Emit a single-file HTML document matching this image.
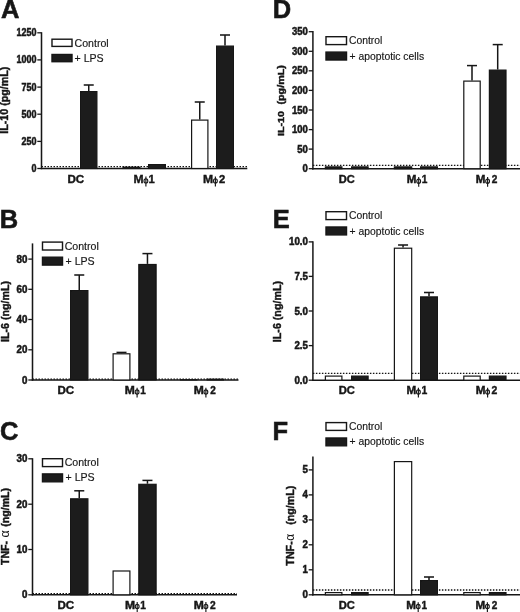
<!DOCTYPE html>
<html><head><meta charset="utf-8"><title>Figure</title>
<style>
html,body{margin:0;padding:0;background:#fff;}
svg{display:block;font-family:"Liberation Sans",sans-serif;fill:#161616;}
</style></head>
<body>
<svg width="520" height="612" viewBox="0 0 520 612">
<defs><filter id="soft" x="0" y="0" width="520" height="612" filterUnits="userSpaceOnUse"><feGaussianBlur stdDeviation="0.38"/></filter></defs>
<rect x="0" y="0" width="520" height="612" fill="#ffffff" stroke="none"/>
<g filter="url(#soft)">
<text transform="translate(1.0,17.6) scale(1.0,1)" font-size="25.5" font-weight="bold" stroke="#161616" stroke-width="0.55">A</text>
<line x1="41.5" y1="32.199999999999996" x2="41.5" y2="169.2" stroke="#161616" stroke-width="1.5" />
<line x1="40.8" y1="168.5" x2="247.3" y2="168.5" stroke="#161616" stroke-width="1.5" />
<line x1="37.3" y1="32.8" x2="41.5" y2="32.8" stroke="#161616" stroke-width="1.3" />
<text transform="translate(36.5,36.3) scale(0.9,1)" font-size="10" font-weight="bold" stroke="#161616" stroke-width="0.5" text-anchor="end">1250</text>
<line x1="37.3" y1="59.9" x2="41.5" y2="59.9" stroke="#161616" stroke-width="1.3" />
<text transform="translate(36.5,63.4) scale(0.9,1)" font-size="10" font-weight="bold" stroke="#161616" stroke-width="0.5" text-anchor="end">1000</text>
<line x1="37.3" y1="87.1" x2="41.5" y2="87.1" stroke="#161616" stroke-width="1.3" />
<text transform="translate(36.5,90.6) scale(0.9,1)" font-size="10" font-weight="bold" stroke="#161616" stroke-width="0.5" text-anchor="end">750</text>
<line x1="37.3" y1="114.2" x2="41.5" y2="114.2" stroke="#161616" stroke-width="1.3" />
<text transform="translate(36.5,117.7) scale(0.9,1)" font-size="10" font-weight="bold" stroke="#161616" stroke-width="0.5" text-anchor="end">500</text>
<line x1="37.3" y1="141.4" x2="41.5" y2="141.4" stroke="#161616" stroke-width="1.3" />
<text transform="translate(36.5,144.9) scale(0.9,1)" font-size="10" font-weight="bold" stroke="#161616" stroke-width="0.5" text-anchor="end">250</text>
<line x1="37.3" y1="168.5" x2="41.5" y2="168.5" stroke="#161616" stroke-width="1.3" />
<text transform="translate(36.5,172.0) scale(0.9,1)" font-size="10" font-weight="bold" stroke="#161616" stroke-width="0.5" text-anchor="end">0</text>
<line x1="41.5" y1="166.6" x2="247.3" y2="166.6" stroke="#161616" stroke-width="1.3" stroke-dasharray="1.5 1.5"/>
<line x1="88.75" y1="85" x2="88.75" y2="91" stroke="#161616" stroke-width="1.5" />
<line x1="83.75" y1="85" x2="93.75" y2="85" stroke="#161616" stroke-width="1.5" />
<rect x="80.6" y="91.6" width="16.3" height="76.9" fill="#1c1c1c" stroke="#161616" stroke-width="1.2"/>
<rect x="123.1" y="167.2" width="16.8" height="1.3000000000000056" fill="#1c1c1c" stroke="#161616" stroke-width="1.2"/>
<rect x="148.6" y="164.6" width="16.8" height="3.9" fill="#1c1c1c" stroke="#161616" stroke-width="1.2"/>
<line x1="199.75" y1="102" x2="199.75" y2="119.5" stroke="#161616" stroke-width="1.5" />
<line x1="194.75" y1="102" x2="204.75" y2="102" stroke="#161616" stroke-width="1.5" />
<rect x="191.6" y="120.1" width="16.3" height="48.4" fill="#ffffff" stroke="#161616" stroke-width="1.2"/>
<line x1="225.0" y1="35" x2="225.0" y2="45.5" stroke="#161616" stroke-width="1.5" />
<line x1="220.0" y1="35" x2="230.0" y2="35" stroke="#161616" stroke-width="1.5" />
<rect x="216.6" y="46.1" width="16.8" height="122.4" fill="#1c1c1c" stroke="#161616" stroke-width="1.2"/>
<text transform="translate(75.8,183.1) scale(1.04,1)" font-size="11.2" font-weight="bold" stroke="#161616" stroke-width="0.4" text-anchor="middle">DC</text>
<g transform="translate(144.6,183.1)"><text transform="translate(-0.9,0) scale(1.082,1)" text-anchor="end" font-size="11.2" font-weight="bold" stroke="#161616" stroke-width="0.4">M</text><line x1="1.3" y1="-6.5" x2="1.3" y2="3.3" stroke="#161616" stroke-width="1.15"/><ellipse cx="1.3" cy="-2.2" rx="1.9" ry="2.15" fill="none" stroke="#161616" stroke-width="1.1"/><text x="10.1" y="0" text-anchor="end" font-size="11.2" font-weight="bold" stroke="#161616" stroke-width="0.4">1</text></g>
<g transform="translate(214.1,183.1)"><text transform="translate(-0.9,0) scale(1.082,1)" text-anchor="end" font-size="11.2" font-weight="bold" stroke="#161616" stroke-width="0.4">M</text><line x1="1.3" y1="-6.5" x2="1.3" y2="3.3" stroke="#161616" stroke-width="1.15"/><ellipse cx="1.3" cy="-2.2" rx="1.9" ry="2.15" fill="none" stroke="#161616" stroke-width="1.1"/><text x="11.1" y="0" text-anchor="end" font-size="11.2" font-weight="bold" stroke="#161616" stroke-width="0.4">2</text></g>
<rect x="52" y="39.2" width="20" height="7.2" fill="#ffffff" stroke="#161616" stroke-width="1.4"/>
<text x="74.5" y="46.60000000000001" font-size="10.6" font-weight="normal" text-anchor="start" stroke="#161616" stroke-width="0.15">Control</text>
<rect x="52" y="54.5" width="20" height="7.2" fill="#1c1c1c" stroke="#161616" stroke-width="1.4"/>
<text x="74.5" y="61.900000000000006" font-size="10.6" font-weight="normal" text-anchor="start" stroke="#161616" stroke-width="0.15">+ LPS</text>
<text transform="translate(8.4,100.2) rotate(-90) scale(1,1)" font-size="10.7" font-weight="bold" stroke="#161616" stroke-width="0.42" text-anchor="middle">IL-10 (pg/mL)</text>
<text transform="translate(-0.3,227.6) scale(1.0,1)" font-size="25.5" font-weight="bold" stroke="#161616" stroke-width="0.55">B</text>
<line x1="32.5" y1="243.4" x2="32.5" y2="380.7" stroke="#161616" stroke-width="1.5" />
<line x1="31.8" y1="380" x2="238.5" y2="380" stroke="#161616" stroke-width="1.5" />
<line x1="28.3" y1="259.1" x2="32.5" y2="259.1" stroke="#161616" stroke-width="1.3" />
<text transform="translate(27.5,262.6) scale(0.98,1)" font-size="10" font-weight="bold" stroke="#161616" stroke-width="0.5" text-anchor="end">80</text>
<line x1="28.3" y1="289.3" x2="32.5" y2="289.3" stroke="#161616" stroke-width="1.3" />
<text transform="translate(27.5,292.8) scale(0.98,1)" font-size="10" font-weight="bold" stroke="#161616" stroke-width="0.5" text-anchor="end">60</text>
<line x1="28.3" y1="319.5" x2="32.5" y2="319.5" stroke="#161616" stroke-width="1.3" />
<text transform="translate(27.5,323.0) scale(0.98,1)" font-size="10" font-weight="bold" stroke="#161616" stroke-width="0.5" text-anchor="end">40</text>
<line x1="28.3" y1="349.8" x2="32.5" y2="349.8" stroke="#161616" stroke-width="1.3" />
<text transform="translate(27.5,353.3) scale(0.98,1)" font-size="10" font-weight="bold" stroke="#161616" stroke-width="0.5" text-anchor="end">20</text>
<line x1="28.3" y1="380" x2="32.5" y2="380" stroke="#161616" stroke-width="1.3" />
<text transform="translate(27.5,383.5) scale(0.98,1)" font-size="10" font-weight="bold" stroke="#161616" stroke-width="0.5" text-anchor="end">0</text>
<line x1="32.5" y1="379.1" x2="238.5" y2="379.1" stroke="#161616" stroke-width="1.3" stroke-dasharray="1.5 1.5"/>
<line x1="79.25" y1="275" x2="79.25" y2="290" stroke="#161616" stroke-width="1.5" />
<line x1="74.25" y1="275" x2="84.25" y2="275" stroke="#161616" stroke-width="1.5" />
<rect x="70.6" y="290.6" width="17.3" height="89.4" fill="#1c1c1c" stroke="#161616" stroke-width="1.2"/>
<line x1="121.5" y1="352.4" x2="121.5" y2="353.2" stroke="#161616" stroke-width="1.5" />
<line x1="116.5" y1="352.4" x2="126.5" y2="352.4" stroke="#161616" stroke-width="1.5" />
<rect x="113.1" y="353.8" width="16.8" height="26.20000000000001" fill="#ffffff" stroke="#161616" stroke-width="1.2"/>
<line x1="147.45" y1="253.6" x2="147.45" y2="263.9" stroke="#161616" stroke-width="1.5" />
<line x1="142.45" y1="253.6" x2="152.45" y2="253.6" stroke="#161616" stroke-width="1.5" />
<rect x="138.79999999999998" y="264.5" width="17.3" height="115.50000000000003" fill="#1c1c1c" stroke="#161616" stroke-width="1.2"/>
<rect x="180.6" y="379.8" width="16.3" height="0.2000000000000114" fill="#1c1c1c" stroke="#161616" stroke-width="1.2"/>
<rect x="207.1" y="379.20000000000005" width="16.3" height="0.7999999999999773" fill="#1c1c1c" stroke="#161616" stroke-width="1.2"/>
<text transform="translate(65.8,394.2) scale(1.16,1)" font-size="10" font-weight="bold" stroke="#161616" stroke-width="0.4" text-anchor="middle">DC</text>
<g transform="translate(135.8,394.2)"><text transform="translate(-0.9,0) scale(1.206,1)" text-anchor="end" font-size="10" font-weight="bold" stroke="#161616" stroke-width="0.4">M</text><line x1="1.3" y1="-6.5" x2="1.3" y2="3.3" stroke="#161616" stroke-width="1.15"/><ellipse cx="1.3" cy="-2.2" rx="1.9" ry="2.15" fill="none" stroke="#161616" stroke-width="1.1"/><text x="10.1" y="0" text-anchor="end" font-size="10" font-weight="bold" stroke="#161616" stroke-width="0.4">1</text></g>
<g transform="translate(204.6,394.2)"><text transform="translate(-0.9,0) scale(1.206,1)" text-anchor="end" font-size="10" font-weight="bold" stroke="#161616" stroke-width="0.4">M</text><line x1="1.3" y1="-6.5" x2="1.3" y2="3.3" stroke="#161616" stroke-width="1.15"/><ellipse cx="1.3" cy="-2.2" rx="1.9" ry="2.15" fill="none" stroke="#161616" stroke-width="1.1"/><text x="11.1" y="0" text-anchor="end" font-size="10" font-weight="bold" stroke="#161616" stroke-width="0.4">2</text></g>
<rect x="42.5" y="242.1" width="20" height="7.9" fill="#ffffff" stroke="#161616" stroke-width="1.4"/>
<text x="64.7" y="249.8" font-size="10.6" font-weight="normal" text-anchor="start" stroke="#161616" stroke-width="0.15">Control</text>
<rect x="42.5" y="257.2" width="20" height="7.9" fill="#1c1c1c" stroke="#161616" stroke-width="1.4"/>
<text x="65.5" y="264.9" font-size="10.6" font-weight="normal" text-anchor="start" stroke="#161616" stroke-width="0.15">+ LPS</text>
<text transform="translate(9,311.5) rotate(-90) scale(1,1)" font-size="10.7" font-weight="bold" stroke="#161616" stroke-width="0.42" text-anchor="middle">IL-6 (ng/mL)</text>
<text transform="translate(0,440.3) scale(1.0,1)" font-size="25.5" font-weight="bold" stroke="#161616" stroke-width="0.55">C</text>
<line x1="32.5" y1="458.2" x2="32.5" y2="595.5" stroke="#161616" stroke-width="1.5" />
<line x1="31.8" y1="594.8" x2="237" y2="594.8" stroke="#161616" stroke-width="1.5" />
<line x1="28.3" y1="458.8" x2="32.5" y2="458.8" stroke="#161616" stroke-width="1.3" />
<text transform="translate(27.5,462.3) scale(0.98,1)" font-size="10" font-weight="bold" stroke="#161616" stroke-width="0.5" text-anchor="end">30</text>
<line x1="28.3" y1="504.2" x2="32.5" y2="504.2" stroke="#161616" stroke-width="1.3" />
<text transform="translate(27.5,507.7) scale(0.98,1)" font-size="10" font-weight="bold" stroke="#161616" stroke-width="0.5" text-anchor="end">20</text>
<line x1="28.3" y1="549.5" x2="32.5" y2="549.5" stroke="#161616" stroke-width="1.3" />
<text transform="translate(27.5,553.0) scale(0.98,1)" font-size="10" font-weight="bold" stroke="#161616" stroke-width="0.5" text-anchor="end">10</text>
<line x1="28.3" y1="594.8" x2="32.5" y2="594.8" stroke="#161616" stroke-width="1.3" />
<text transform="translate(27.5,598.3) scale(0.98,1)" font-size="10" font-weight="bold" stroke="#161616" stroke-width="0.5" text-anchor="end">0</text>
<line x1="32.5" y1="593.6" x2="237" y2="593.6" stroke="#161616" stroke-width="1.4" stroke-dasharray="1.5 1.5"/>
<line x1="79.25" y1="490.8" x2="79.25" y2="498.2" stroke="#161616" stroke-width="1.5" />
<line x1="74.25" y1="490.8" x2="84.25" y2="490.8" stroke="#161616" stroke-width="1.5" />
<rect x="70.6" y="498.8" width="17.3" height="95.99999999999997" fill="#1c1c1c" stroke="#161616" stroke-width="1.2"/>
<rect x="113.1" y="571.0" width="16.8" height="23.799999999999976" fill="#ffffff" stroke="#161616" stroke-width="1.2"/>
<line x1="147.45" y1="480.4" x2="147.45" y2="483.7" stroke="#161616" stroke-width="1.5" />
<line x1="142.45" y1="480.4" x2="152.45" y2="480.4" stroke="#161616" stroke-width="1.5" />
<rect x="138.79999999999998" y="484.3" width="17.3" height="110.49999999999997" fill="#1c1c1c" stroke="#161616" stroke-width="1.2"/>
<text transform="translate(65.8,608.6) scale(1.14,1)" font-size="10.2" font-weight="bold" stroke="#161616" stroke-width="0.4" text-anchor="middle">DC</text>
<g transform="translate(135.9,608.6)"><text transform="translate(-0.9,0) scale(1.186,1)" text-anchor="end" font-size="10.2" font-weight="bold" stroke="#161616" stroke-width="0.4">M</text><line x1="1.3" y1="-6.5" x2="1.3" y2="3.3" stroke="#161616" stroke-width="1.15"/><ellipse cx="1.3" cy="-2.2" rx="1.9" ry="2.15" fill="none" stroke="#161616" stroke-width="1.1"/><text x="10.1" y="0" text-anchor="end" font-size="10.2" font-weight="bold" stroke="#161616" stroke-width="0.4">1</text></g>
<g transform="translate(204.6,608.6)"><text transform="translate(-0.9,0) scale(1.186,1)" text-anchor="end" font-size="10.2" font-weight="bold" stroke="#161616" stroke-width="0.4">M</text><line x1="1.3" y1="-6.5" x2="1.3" y2="3.3" stroke="#161616" stroke-width="1.15"/><ellipse cx="1.3" cy="-2.2" rx="1.9" ry="2.15" fill="none" stroke="#161616" stroke-width="1.1"/><text x="11.1" y="0" text-anchor="end" font-size="10.2" font-weight="bold" stroke="#161616" stroke-width="0.4">2</text></g>
<rect x="42.5" y="458.7" width="20" height="7.9" fill="#ffffff" stroke="#161616" stroke-width="1.4"/>
<text x="64.7" y="465.99999999999994" font-size="10.6" font-weight="normal" text-anchor="start" stroke="#161616" stroke-width="0.15">Control</text>
<rect x="42.5" y="473.9" width="20" height="7.9" fill="#1c1c1c" stroke="#161616" stroke-width="1.4"/>
<text x="65.5" y="481.19999999999993" font-size="10.6" font-weight="normal" text-anchor="start" stroke="#161616" stroke-width="0.15">+ LPS</text>
<text transform="translate(9.3,526.5) rotate(-90) scale(1.05,1)" font-size="10.1" font-weight="bold" stroke="#161616" stroke-width="0.42" text-anchor="middle">TNF-<tspan dx="3.2" font-weight="normal" stroke="none" font-size="12">α</tspan><tspan dx="3.4">(ng/mL)</tspan></text>
<text transform="translate(272.7,17.6) scale(1.0,1)" font-size="25.5" font-weight="bold" stroke="#161616" stroke-width="0.55">D</text>
<line x1="312.9" y1="31.099999999999998" x2="312.9" y2="169.39999999999998" stroke="#161616" stroke-width="1.5" />
<line x1="312.2" y1="168.7" x2="520" y2="168.7" stroke="#161616" stroke-width="1.5" />
<line x1="308.7" y1="31.7" x2="312.9" y2="31.7" stroke="#161616" stroke-width="1.3" />
<text transform="translate(307.9,35.2) scale(0.95,1)" font-size="10" font-weight="bold" stroke="#161616" stroke-width="0.5" text-anchor="end">350</text>
<line x1="308.7" y1="51.3" x2="312.9" y2="51.3" stroke="#161616" stroke-width="1.3" />
<text transform="translate(307.9,54.8) scale(0.95,1)" font-size="10" font-weight="bold" stroke="#161616" stroke-width="0.5" text-anchor="end">300</text>
<line x1="308.7" y1="70.8" x2="312.9" y2="70.8" stroke="#161616" stroke-width="1.3" />
<text transform="translate(307.9,74.3) scale(0.95,1)" font-size="10" font-weight="bold" stroke="#161616" stroke-width="0.5" text-anchor="end">250</text>
<line x1="308.7" y1="90.4" x2="312.9" y2="90.4" stroke="#161616" stroke-width="1.3" />
<text transform="translate(307.9,93.9) scale(0.95,1)" font-size="10" font-weight="bold" stroke="#161616" stroke-width="0.5" text-anchor="end">200</text>
<line x1="308.7" y1="110" x2="312.9" y2="110" stroke="#161616" stroke-width="1.3" />
<text transform="translate(307.9,113.5) scale(0.95,1)" font-size="10" font-weight="bold" stroke="#161616" stroke-width="0.5" text-anchor="end">150</text>
<line x1="308.7" y1="129.6" x2="312.9" y2="129.6" stroke="#161616" stroke-width="1.3" />
<text transform="translate(307.9,133.1) scale(0.95,1)" font-size="10" font-weight="bold" stroke="#161616" stroke-width="0.5" text-anchor="end">100</text>
<line x1="308.7" y1="149.1" x2="312.9" y2="149.1" stroke="#161616" stroke-width="1.3" />
<text transform="translate(307.9,152.6) scale(0.95,1)" font-size="10" font-weight="bold" stroke="#161616" stroke-width="0.5" text-anchor="end">50</text>
<line x1="308.7" y1="168.7" x2="312.9" y2="168.7" stroke="#161616" stroke-width="1.3" />
<text transform="translate(307.9,172.2) scale(0.95,1)" font-size="10" font-weight="bold" stroke="#161616" stroke-width="0.5" text-anchor="end">0</text>
<line x1="312.9" y1="165.4" x2="520" y2="165.4" stroke="#161616" stroke-width="1.3" stroke-dasharray="1.5 1.5"/>
<rect x="325.40000000000003" y="166.9" width="16.5" height="1.7999999999999772" fill="#1c1c1c" stroke="#161616" stroke-width="1.2"/>
<rect x="351.6" y="166.9" width="16.5" height="1.7999999999999772" fill="#1c1c1c" stroke="#161616" stroke-width="1.2"/>
<rect x="394.40000000000003" y="166.9" width="17.3" height="1.7999999999999772" fill="#1c1c1c" stroke="#161616" stroke-width="1.2"/>
<rect x="420.6" y="166.9" width="16.8" height="1.7999999999999772" fill="#1c1c1c" stroke="#161616" stroke-width="1.2"/>
<line x1="472.0" y1="65.6" x2="472.0" y2="80.5" stroke="#161616" stroke-width="1.5" />
<line x1="467.0" y1="65.6" x2="477.0" y2="65.6" stroke="#161616" stroke-width="1.5" />
<rect x="463.8" y="81.1" width="16.400000000000002" height="87.6" fill="#ffffff" stroke="#161616" stroke-width="1.2"/>
<line x1="497.7" y1="44.6" x2="497.7" y2="69.5" stroke="#161616" stroke-width="1.5" />
<line x1="492.7" y1="44.6" x2="502.7" y2="44.6" stroke="#161616" stroke-width="1.5" />
<rect x="489.40000000000003" y="70.1" width="16.6" height="98.6" fill="#1c1c1c" stroke="#161616" stroke-width="1.2"/>
<text transform="translate(346.8,183.4) scale(1.1,1)" font-size="10.1" font-weight="bold" stroke="#161616" stroke-width="0.4" text-anchor="middle">DC</text>
<g transform="translate(417.4,183.4)"><text transform="translate(-0.9,0) scale(1.144,1)" text-anchor="end" font-size="10.1" font-weight="bold" stroke="#161616" stroke-width="0.4">M</text><line x1="1.3" y1="-6.5" x2="1.3" y2="3.3" stroke="#161616" stroke-width="1.15"/><ellipse cx="1.3" cy="-2.2" rx="1.9" ry="2.15" fill="none" stroke="#161616" stroke-width="1.1"/><text x="10.1" y="0" text-anchor="end" font-size="10.1" font-weight="bold" stroke="#161616" stroke-width="0.4">1</text></g>
<g transform="translate(486.3,183.4)"><text transform="translate(-0.9,0) scale(1.144,1)" text-anchor="end" font-size="10.1" font-weight="bold" stroke="#161616" stroke-width="0.4">M</text><line x1="1.3" y1="-6.5" x2="1.3" y2="3.3" stroke="#161616" stroke-width="1.15"/><ellipse cx="1.3" cy="-2.2" rx="1.9" ry="2.15" fill="none" stroke="#161616" stroke-width="1.1"/><text x="11.1" y="0" text-anchor="end" font-size="10.1" font-weight="bold" stroke="#161616" stroke-width="0.4">2</text></g>
<rect x="326" y="36.7" width="20.5" height="7.9" fill="#ffffff" stroke="#161616" stroke-width="1.4"/>
<text x="349" y="44.2" font-size="10.35" font-weight="normal" text-anchor="start" stroke="#161616" stroke-width="0.15">Control</text>
<rect x="326" y="52.1" width="20.5" height="7.9" fill="#1c1c1c" stroke="#161616" stroke-width="1.4"/>
<text x="349.6" y="59.6" font-size="10.35" font-weight="normal" text-anchor="start" stroke="#161616" stroke-width="0.15">+ apoptotic cells</text>
<text transform="translate(284.2,100.6) rotate(-90) scale(1.17,1)" font-size="9.2" font-weight="bold" stroke="#161616" stroke-width="0.42" text-anchor="middle">IL-10<tspan dx="5.5">(pg/mL)</tspan></text>
<text transform="translate(272.8,227.8) scale(1.0,1)" font-size="25.5" font-weight="bold" stroke="#161616" stroke-width="0.55">E</text>
<line x1="312.9" y1="241.3" x2="312.9" y2="380.9" stroke="#161616" stroke-width="1.5" />
<line x1="312.2" y1="380.2" x2="520" y2="380.2" stroke="#161616" stroke-width="1.5" />
<line x1="308.7" y1="241.9" x2="312.9" y2="241.9" stroke="#161616" stroke-width="1.3" />
<text transform="translate(307.9,245.4) scale(0.97,1)" font-size="10" font-weight="bold" stroke="#161616" stroke-width="0.5" text-anchor="end">10.0</text>
<line x1="308.7" y1="276.4" x2="312.9" y2="276.4" stroke="#161616" stroke-width="1.3" />
<text transform="translate(307.9,279.9) scale(0.97,1)" font-size="10" font-weight="bold" stroke="#161616" stroke-width="0.5" text-anchor="end">7.5</text>
<line x1="308.7" y1="311" x2="312.9" y2="311" stroke="#161616" stroke-width="1.3" />
<text transform="translate(307.9,314.5) scale(0.97,1)" font-size="10" font-weight="bold" stroke="#161616" stroke-width="0.5" text-anchor="end">5.0</text>
<line x1="308.7" y1="345.6" x2="312.9" y2="345.6" stroke="#161616" stroke-width="1.3" />
<text transform="translate(307.9,349.1) scale(0.97,1)" font-size="10" font-weight="bold" stroke="#161616" stroke-width="0.5" text-anchor="end">2.5</text>
<line x1="308.7" y1="380.2" x2="312.9" y2="380.2" stroke="#161616" stroke-width="1.3" />
<text transform="translate(307.9,383.7) scale(0.97,1)" font-size="10" font-weight="bold" stroke="#161616" stroke-width="0.5" text-anchor="end">0.0</text>
<line x1="312.9" y1="373.4" x2="520" y2="373.4" stroke="#161616" stroke-width="1.3" stroke-dasharray="1.5 1.5"/>
<rect x="325.40000000000003" y="376.1" width="16.5" height="4.099999999999989" fill="#ffffff" stroke="#161616" stroke-width="1.2"/>
<rect x="351.6" y="376.1" width="16.5" height="4.099999999999989" fill="#1c1c1c" stroke="#161616" stroke-width="1.2"/>
<line x1="403.05" y1="245" x2="403.05" y2="247.6" stroke="#161616" stroke-width="1.5" />
<line x1="398.05" y1="245" x2="408.05" y2="245" stroke="#161616" stroke-width="1.5" />
<rect x="394.40000000000003" y="248.2" width="17.3" height="132.0" fill="#ffffff" stroke="#161616" stroke-width="1.2"/>
<line x1="429.0" y1="292.5" x2="429.0" y2="296.3" stroke="#161616" stroke-width="1.5" />
<line x1="424.0" y1="292.5" x2="434.0" y2="292.5" stroke="#161616" stroke-width="1.5" />
<rect x="420.6" y="296.90000000000003" width="16.8" height="83.29999999999998" fill="#1c1c1c" stroke="#161616" stroke-width="1.2"/>
<rect x="463.8" y="376.1" width="16.400000000000002" height="4.099999999999989" fill="#ffffff" stroke="#161616" stroke-width="1.2"/>
<rect x="489.40000000000003" y="376.1" width="16.6" height="4.099999999999989" fill="#1c1c1c" stroke="#161616" stroke-width="1.2"/>
<text transform="translate(346.8,394.2) scale(1.08,1)" font-size="10.4" font-weight="bold" stroke="#161616" stroke-width="0.4" text-anchor="middle">DC</text>
<g transform="translate(417.1,394.2)"><text transform="translate(-0.9,0) scale(1.123,1)" text-anchor="end" font-size="10.4" font-weight="bold" stroke="#161616" stroke-width="0.4">M</text><line x1="1.3" y1="-6.5" x2="1.3" y2="3.3" stroke="#161616" stroke-width="1.15"/><ellipse cx="1.3" cy="-2.2" rx="1.9" ry="2.15" fill="none" stroke="#161616" stroke-width="1.1"/><text x="10.1" y="0" text-anchor="end" font-size="10.4" font-weight="bold" stroke="#161616" stroke-width="0.4">1</text></g>
<g transform="translate(486.3,394.2)"><text transform="translate(-0.9,0) scale(1.123,1)" text-anchor="end" font-size="10.4" font-weight="bold" stroke="#161616" stroke-width="0.4">M</text><line x1="1.3" y1="-6.5" x2="1.3" y2="3.3" stroke="#161616" stroke-width="1.15"/><ellipse cx="1.3" cy="-2.2" rx="1.9" ry="2.15" fill="none" stroke="#161616" stroke-width="1.1"/><text x="11.1" y="0" text-anchor="end" font-size="10.4" font-weight="bold" stroke="#161616" stroke-width="0.4">2</text></g>
<rect x="326" y="211.7" width="20.5" height="7.9" fill="#ffffff" stroke="#161616" stroke-width="1.4"/>
<text x="349" y="219.2" font-size="10.35" font-weight="normal" text-anchor="start" stroke="#161616" stroke-width="0.15">Control</text>
<rect x="326" y="227.0" width="20.5" height="7.9" fill="#1c1c1c" stroke="#161616" stroke-width="1.4"/>
<text x="349.6" y="234.5" font-size="10.35" font-weight="normal" text-anchor="start" stroke="#161616" stroke-width="0.15">+ apoptotic cells</text>
<text transform="translate(280.9,311.6) rotate(-90) scale(1,1)" font-size="10.7" font-weight="bold" stroke="#161616" stroke-width="0.42" text-anchor="middle">IL-6 (ng/mL)</text>
<text transform="translate(272.5,439.5) scale(1.0,1)" font-size="25.5" font-weight="bold" stroke="#161616" stroke-width="0.55">F</text>
<line x1="312.9" y1="456.4" x2="312.9" y2="595.5" stroke="#161616" stroke-width="1.5" />
<line x1="312.2" y1="594.8" x2="520" y2="594.8" stroke="#161616" stroke-width="1.5" />
<line x1="308.7" y1="469.9" x2="312.9" y2="469.9" stroke="#161616" stroke-width="1.3" />
<text transform="translate(307.9,473.4) scale(0.97,1)" font-size="10" font-weight="bold" stroke="#161616" stroke-width="0.5" text-anchor="end">5</text>
<line x1="308.7" y1="494.9" x2="312.9" y2="494.9" stroke="#161616" stroke-width="1.3" />
<text transform="translate(307.9,498.4) scale(0.97,1)" font-size="10" font-weight="bold" stroke="#161616" stroke-width="0.5" text-anchor="end">4</text>
<line x1="308.7" y1="519.9" x2="312.9" y2="519.9" stroke="#161616" stroke-width="1.3" />
<text transform="translate(307.9,523.4) scale(0.97,1)" font-size="10" font-weight="bold" stroke="#161616" stroke-width="0.5" text-anchor="end">3</text>
<line x1="308.7" y1="544.8" x2="312.9" y2="544.8" stroke="#161616" stroke-width="1.3" />
<text transform="translate(307.9,548.3) scale(0.97,1)" font-size="10" font-weight="bold" stroke="#161616" stroke-width="0.5" text-anchor="end">2</text>
<line x1="308.7" y1="569.8" x2="312.9" y2="569.8" stroke="#161616" stroke-width="1.3" />
<text transform="translate(307.9,573.3) scale(0.97,1)" font-size="10" font-weight="bold" stroke="#161616" stroke-width="0.5" text-anchor="end">1</text>
<line x1="308.7" y1="594.8" x2="312.9" y2="594.8" stroke="#161616" stroke-width="1.3" />
<text transform="translate(307.9,598.3) scale(0.97,1)" font-size="10" font-weight="bold" stroke="#161616" stroke-width="0.5" text-anchor="end">0</text>
<line x1="312.9" y1="590" x2="520" y2="590" stroke="#161616" stroke-width="1.3" stroke-dasharray="1.5 1.5"/>
<rect x="325.40000000000003" y="592.6" width="16.5" height="2.1999999999999544" fill="#ffffff" stroke="#161616" stroke-width="1.2"/>
<rect x="351.6" y="592.6" width="16.5" height="2.1999999999999544" fill="#1c1c1c" stroke="#161616" stroke-width="1.2"/>
<rect x="394.40000000000003" y="461.6" width="17.3" height="133.19999999999996" fill="#ffffff" stroke="#161616" stroke-width="1.2"/>
<line x1="429.0" y1="577" x2="429.0" y2="580" stroke="#161616" stroke-width="1.5" />
<line x1="424.0" y1="577" x2="434.0" y2="577" stroke="#161616" stroke-width="1.5" />
<rect x="420.6" y="580.6" width="16.8" height="14.199999999999955" fill="#1c1c1c" stroke="#161616" stroke-width="1.2"/>
<rect x="463.8" y="592.6" width="16.400000000000002" height="2.1999999999999544" fill="#ffffff" stroke="#161616" stroke-width="1.2"/>
<rect x="489.40000000000003" y="592.6" width="16.6" height="2.1999999999999544" fill="#1c1c1c" stroke="#161616" stroke-width="1.2"/>
<text transform="translate(346.8,608.7) scale(1.12,1)" font-size="10.0" font-weight="bold" stroke="#161616" stroke-width="0.4" text-anchor="middle">DC</text>
<g transform="translate(416.9,608.7)"><text transform="translate(-0.9,0) scale(1.165,1)" text-anchor="end" font-size="10.0" font-weight="bold" stroke="#161616" stroke-width="0.4">M</text><line x1="1.3" y1="-6.5" x2="1.3" y2="3.3" stroke="#161616" stroke-width="1.15"/><ellipse cx="1.3" cy="-2.2" rx="1.9" ry="2.15" fill="none" stroke="#161616" stroke-width="1.1"/><text x="10.1" y="0" text-anchor="end" font-size="10.0" font-weight="bold" stroke="#161616" stroke-width="0.4">1</text></g>
<g transform="translate(486.1,608.7)"><text transform="translate(-0.9,0) scale(1.165,1)" text-anchor="end" font-size="10.0" font-weight="bold" stroke="#161616" stroke-width="0.4">M</text><line x1="1.3" y1="-6.5" x2="1.3" y2="3.3" stroke="#161616" stroke-width="1.15"/><ellipse cx="1.3" cy="-2.2" rx="1.9" ry="2.15" fill="none" stroke="#161616" stroke-width="1.1"/><text x="11.1" y="0" text-anchor="end" font-size="10.0" font-weight="bold" stroke="#161616" stroke-width="0.4">2</text></g>
<rect x="326" y="422.6" width="20.5" height="7.8" fill="#ffffff" stroke="#161616" stroke-width="1.4"/>
<text x="349" y="430.00000000000006" font-size="10.35" font-weight="normal" text-anchor="start" stroke="#161616" stroke-width="0.15">Control</text>
<rect x="326" y="438.0" width="20.5" height="7.8" fill="#1c1c1c" stroke="#161616" stroke-width="1.4"/>
<text x="349.6" y="445.40000000000003" font-size="10.35" font-weight="normal" text-anchor="start" stroke="#161616" stroke-width="0.15">+ apoptotic cells</text>
<text transform="translate(294.3,525.6) rotate(-90) scale(1,1)" font-size="10.7" font-weight="bold" stroke="#161616" stroke-width="0.42" text-anchor="middle">TNF-<tspan dx="0.6" font-weight="normal" stroke="none" font-size="12">α</tspan><tspan dx="9">(ng/mL)</tspan></text>
</g>
</svg>
</body></html>
